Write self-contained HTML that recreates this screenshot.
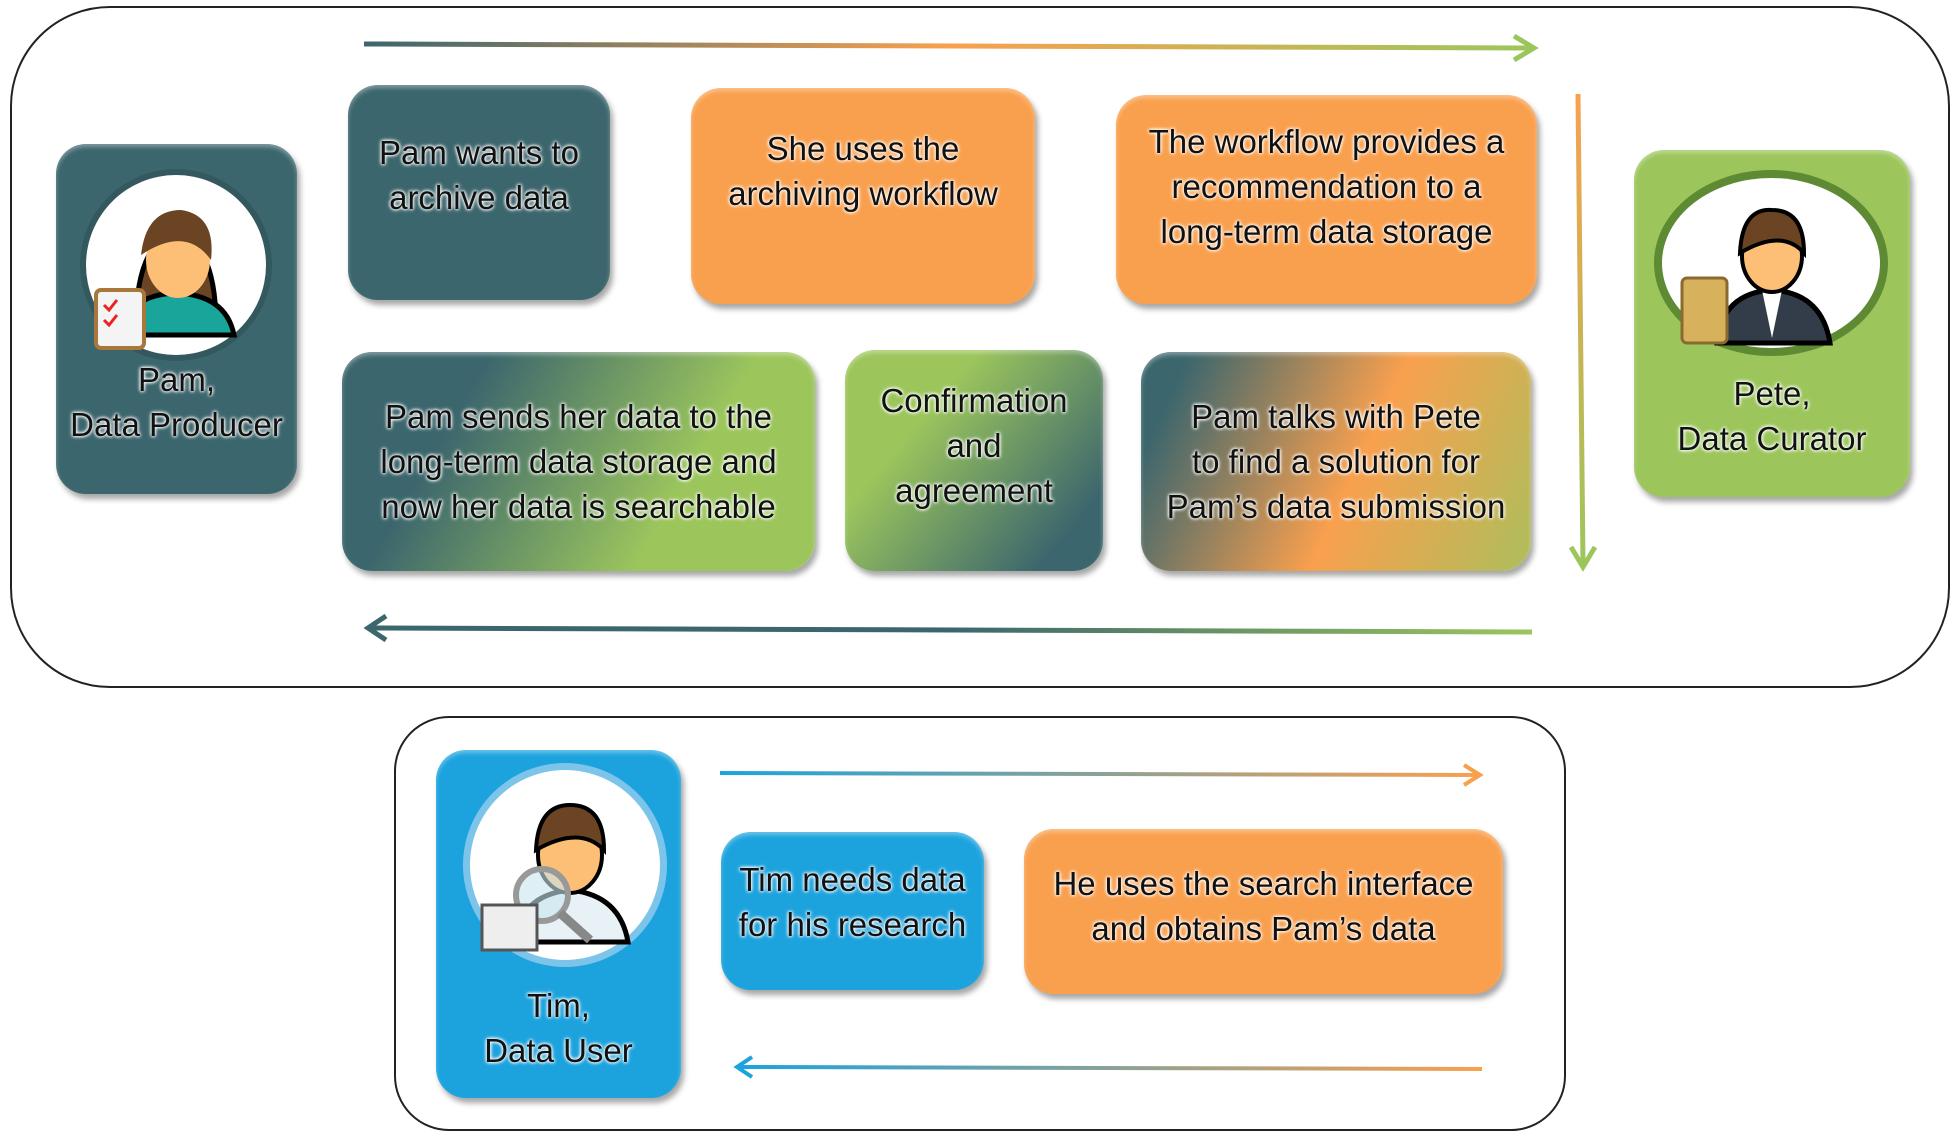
<!DOCTYPE html>
<html><head><meta charset="utf-8"><style>
body{margin:0;width:1960px;height:1143px;background:#fff;position:relative;overflow:hidden;font-family:"Liberation Sans",sans-serif}
.a{position:absolute;box-sizing:border-box}
.frame{border:2px solid #222;background:#fff}
.b{border-radius:30px;display:flex;align-items:center;justify-content:center;text-align:center;font-size:33px;line-height:45px;color:#111;box-shadow:3px 5px 6px rgba(0,0,0,.35),inset 0 3px 4px rgba(255,255,255,.35);
text-shadow:0 0 3px #fff,0 0 3px #fff,0 0 5px rgba(255,255,255,.8)}
.teal{background:#3c666d}
.or{background:#f9a04e}
.gr{background:#9cc65c}
.bl{background:#1ca3de}
.card{flex-direction:column;justify-content:flex-end;padding-bottom:50px}
.circ{position:absolute;border-radius:50%;background:#fff}
</style></head><body>
<div class="a frame" style="left:10px;top:6px;width:1940px;height:682px;border-radius:100px"></div>
<div class="a frame" style="left:394px;top:716px;width:1172px;height:415px;border-radius:55px"></div>

<svg class="a" style="left:0;top:0" width="1960" height="1143">
<defs>
<linearGradient id="g1" x1="0" x2="1"><stop offset="0" stop-color="#3c666d"/><stop offset=".5" stop-color="#f9a04e"/><stop offset="1" stop-color="#9cc65c"/></linearGradient>
<linearGradient id="g2" x1="0" x2="1"><stop offset="0" stop-color="#3c666d"/><stop offset=".5" stop-color="#3c666d"/><stop offset="1" stop-color="#9cc65c"/></linearGradient>
<linearGradient id="g3" x1="0" y1="0" x2="0" y2="1"><stop offset="0" stop-color="#f9a04e"/><stop offset="1" stop-color="#9cc65c"/></linearGradient>
<linearGradient id="g4" x1="0" x2="1"><stop offset="0" stop-color="#1ca3de"/><stop offset="1" stop-color="#f9a04e"/></linearGradient>
</defs>
<line x1="364" y1="44" x2="1532" y2="48" stroke="url(#g1)" stroke-width="5"/>
<polyline points="1514,36 1534,48 1514,60" fill="none" stroke="#9cc65c" stroke-width="5"/>
<line x1="1578" y1="94" x2="1583" y2="565" stroke="url(#g3)" stroke-width="5"/>
<polyline points="1571,547 1583,567 1595,547" fill="none" stroke="#9cc65c" stroke-width="5"/>
<line x1="370" y1="628" x2="1532" y2="632" stroke="url(#g2)" stroke-width="5"/>
<polyline points="386,616 368,628 386,640" fill="none" stroke="#3c666d" stroke-width="5"/>
<line x1="720" y1="773" x2="1478" y2="775" stroke="url(#g4)" stroke-width="4"/>
<polyline points="1464,765 1480,775 1464,785" fill="none" stroke="#f9a04e" stroke-width="4"/>
<line x1="740" y1="1067" x2="1482" y2="1069" stroke="url(#g4)" stroke-width="4"/>
<polyline points="752,1057 737,1067 752,1077" fill="none" stroke="#1ca3de" stroke-width="4"/>
</svg>

<div class="a b teal card" style="left:56px;top:144px;width:241px;height:350px;padding-bottom:47px">Pam,<br>Data Producer</div>
<div class="circ" style="left:86px;top:175px;width:180px;height:180px;box-shadow:0 0 0 6px #33595f"></div>
<svg class="a" style="left:86px;top:175px" width="180" height="180">
<path d="M50 150 Q50 70 90 55 Q130 70 130 150Z" fill="#6b4423" stroke="#000" stroke-width="5"/>
<path d="M35 160 Q40 120 90 118 Q140 120 148 160Z" fill="#1aa59a" stroke="#000" stroke-width="5"/>
<ellipse cx="92" cy="85" rx="32" ry="38" fill="#fdbf75"/>
<path d="M55 80 Q60 35 95 35 Q130 40 125 85 Q100 50 55 80Z" fill="#6b4423"/>
<rect x="10" y="115" width="48" height="58" rx="5" fill="#f4f4f4" stroke="#a9773a" stroke-width="4"/>
<path d="M18 130l5 5 8-10M18 145l5 5 8-10" stroke="#e22" stroke-width="3" fill="none"/>
</svg>

<div class="a b teal" style="left:348px;top:85px;width:262px;height:215px;align-items:flex-start;padding-top:45px">Pam wants to<br>archive data</div>
<div class="a b or" style="left:691px;top:88px;width:344px;height:216px;align-items:flex-start;padding-top:38px">She uses the<br>archiving workflow</div>
<div class="a b or" style="left:1116px;top:95px;width:421px;height:209px;align-items:flex-start;padding-top:24px">The workflow provides a<br>recommendation to a<br>long-term data storage</div>
<div class="a b" style="left:342px;top:352px;width:473px;height:219px;background:linear-gradient(120deg,#3c666d 25%,#9cc65c 70%)">Pam sends her data to the<br>long-term data storage and<br>now her data is searchable</div>
<div class="a b" style="left:845px;top:350px;width:258px;height:221px;background:linear-gradient(130deg,#9cc65c 30%,#3c666d 85%);align-items:flex-start;padding-top:28px">Confirmation<br>and<br>agreement</div>
<div class="a b" style="left:1141px;top:352px;width:390px;height:219px;background:linear-gradient(115deg,#3c666d 10%,#f9a04e 55%,#b5bb5a 95%)">Pam talks with Pete<br>to find a solution for<br>Pam’s data submission</div>

<div class="a b gr card" style="left:1634px;top:150px;width:276px;height:347px;padding-bottom:36px">Pete,<br>Data Curator</div>
<div class="circ" style="left:1662px;top:178px;width:218px;height:170px;box-shadow:0 0 0 8px #5e8a34"></div>
<svg class="a" style="left:1662px;top:178px" width="218" height="170">
<path d="M55 165 Q60 115 110 112 Q160 115 168 165Z" fill="#333d4a" stroke="#000" stroke-width="5"/>
<path d="M100 112 L110 160 L120 112Z" fill="#fff"/>
<ellipse cx="110" cy="78" rx="30" ry="36" fill="#fdbf75" stroke="#000" stroke-width="4"/>
<path d="M78 75 Q80 30 110 32 Q142 32 142 75 Q120 50 78 75Z" fill="#6b4423" stroke="#000" stroke-width="4"/>
<rect x="20" y="100" width="45" height="65" rx="5" fill="#d8b15c" stroke="#8a6a30" stroke-width="3"/>
</svg>

<div class="a b bl card" style="left:436px;top:750px;width:245px;height:348px;padding-bottom:25px">Tim,<br>Data User</div>
<div class="circ" style="left:470px;top:770px;width:190px;height:190px;box-shadow:0 0 0 7px #7cc4ea"></div>
<svg class="a" style="left:470px;top:770px" width="190" height="190">
<path d="M45 172 Q50 125 100 120 Q150 125 158 172Z" fill="#e8f2f6" stroke="#000" stroke-width="5"/>
<ellipse cx="100" cy="85" rx="32" ry="38" fill="#fdbf75" stroke="#000" stroke-width="4"/>
<path d="M66 80 Q68 35 100 35 Q134 35 134 80 Q110 55 66 80Z" fill="#6b4423" stroke="#000" stroke-width="4"/>
<circle cx="72" cy="125" r="26" fill="rgba(200,230,240,.6)" stroke="#999" stroke-width="6"/>
<line x1="90" y1="143" x2="120" y2="170" stroke="#888" stroke-width="9"/>
<rect x="12" y="135" width="55" height="45" fill="#eee" stroke="#555" stroke-width="3"/>
</svg>

<div class="a b bl" style="left:721px;top:832px;width:263px;height:158px;align-items:flex-start;padding-top:25px">Tim needs data<br>for his research</div>
<div class="a b or" style="left:1024px;top:829px;width:479px;height:165px;align-items:flex-start;padding-top:32px">He uses the search interface<br>and obtains Pam’s data</div>
</body></html>
